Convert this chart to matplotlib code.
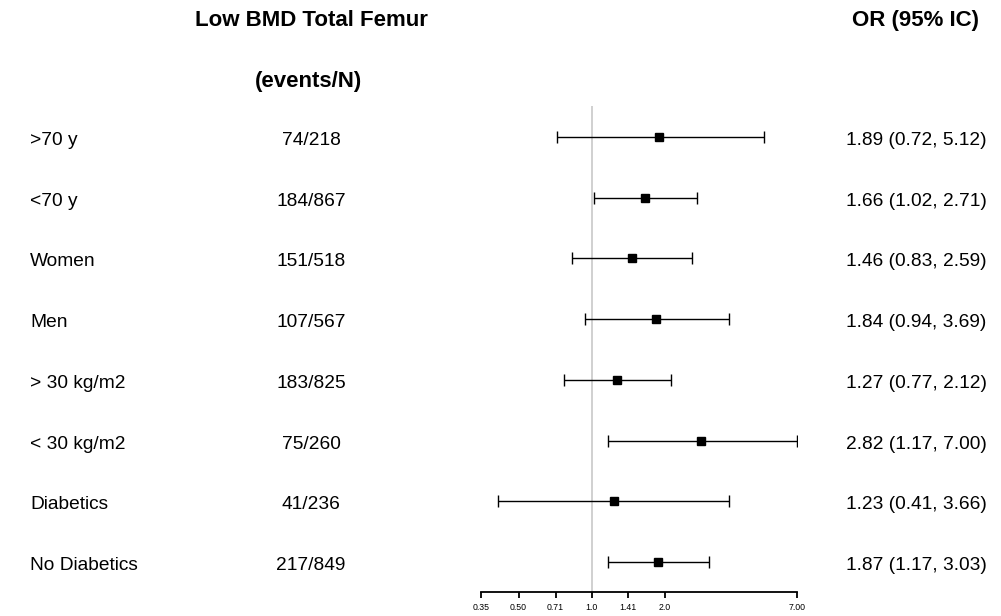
import matplotlib
matplotlib.use("Agg")
import matplotlib.pyplot as plt
import numpy as np

plt.rcParams['font.family'] = ['Liberation Sans', 'DejaVu Sans']

labels = [">70 y", "<70 y", "Women", "Men", "> 30 kg/m2", "< 30 kg/m2", "Diabetics", "No Diabetics"]
events = ["74/218", "184/867", "151/518", "107/567", "183/825", "75/260", "41/236", "217/849"]
or_vals = [1.89, 1.66, 1.46, 1.84, 1.27, 2.82, 1.23, 1.87]
ci_low = [0.72, 1.02, 0.83, 0.94, 0.77, 1.17, 0.41, 1.17]
ci_high = [5.12, 2.71, 2.59, 3.69, 2.12, 7.00, 3.66, 3.03]
tick_vals = [0.35, 0.50, 0.71, 1.0, 1.41, 2.0, 7.00]
tick_labels = ["0.35", "0.50", "0.71", "1.0", "1.41", "2.0", "7.00"]

W, H = 1001, 616
fig = plt.figure(figsize=(W / 100, H / 100), dpi=100)

def fx(px):
    return px / W

def fy(py):
    return 1 - py / H

# Forest axes
x0, x1 = 481, 797
ytop, ybot = 106, 592
ax = fig.add_axes([fx(x0), fy(ybot), fx(x1) - fx(x0), fy(ytop) - fy(ybot)])
ax.set_xscale('log')
ax.set_xlim(tick_vals[0], tick_vals[-1])
row_top, row_bot = 137, 562
step = (row_bot - row_top) / (len(labels) - 1)
ax.set_ylim((ybot - row_top) / step, (ytop - row_top) / step)

ax.axvline(1.0, color='#c8c8c8', lw=1.2, zorder=0)
ys = np.arange(len(labels))
o = np.array(or_vals)
err = np.vstack([o - np.array(ci_low), np.array(ci_high) - o])
ax.errorbar(o, ys, xerr=err, fmt='s', color='black', ms=5.5, lw=1.0,
            capsize=4.5, capthick=1.0, elinewidth=1.0)

for s in ['top', 'right', 'left']:
    ax.spines[s].set_visible(False)
ax.spines['bottom'].set_linewidth(1.3)
ax.set_yticks([])
ax.set_xticks(tick_vals)
ax.set_xticklabels(tick_labels, fontsize=6.3)
ax.xaxis.set_minor_locator(matplotlib.ticker.NullLocator())
ax.tick_params(axis='x', length=4, width=1.3, pad=4)
ax.patch.set_alpha(0)

# Texts
fs = 13.8
for i, (lab, ev, orv, lo, hi) in enumerate(zip(labels, events, or_vals, ci_low, ci_high)):
    y = fy(row_top + i * step + 8)
    fig.text(fx(30), y, lab, ha='left', va='baseline', fontsize=fs)
    fig.text(fx(311), y, ev, ha='center', va='baseline', fontsize=fs)
    fig.text(fx(916), y, f"{orv:.2f} ({lo:.2f}, {hi:.2f})", ha='center', va='baseline', fontsize=fs)

hfs = 16
fig.text(fx(311), fy(26), "Low BMD Total Femur", ha='center', va='baseline', fontsize=hfs, fontweight='bold')
fig.text(fx(309), fy(87), "(events/N)", ha='center', va='baseline', fontsize=hfs, fontweight='bold')
fig.text(fx(916), fy(26), "OR (95% IC)", ha='center', va='baseline', fontsize=hfs, fontweight='bold')

fig.savefig("out.png", dpi=100)
